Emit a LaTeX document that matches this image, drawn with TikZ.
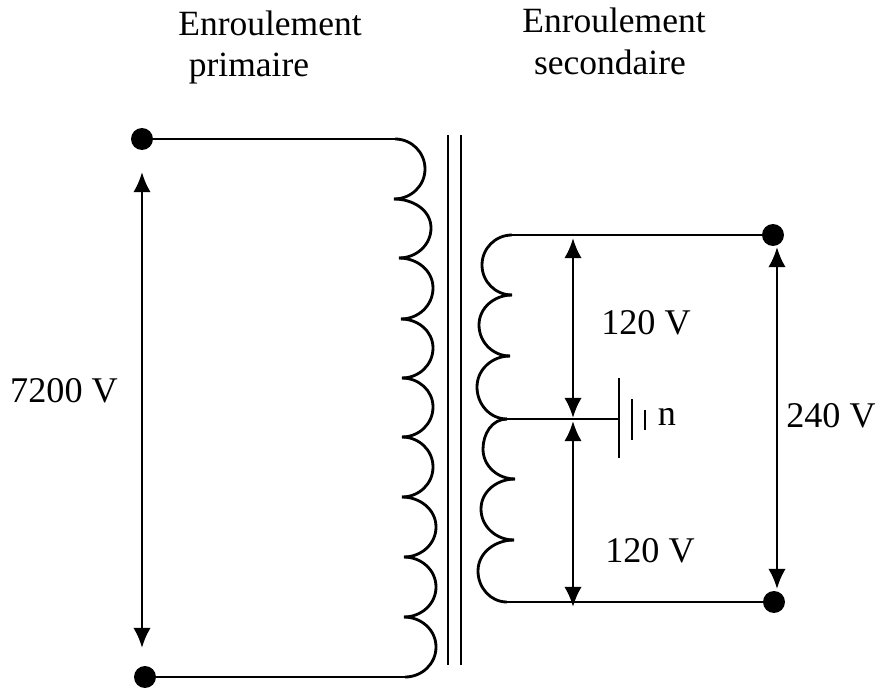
\documentclass[tikz,border=0pt]{standalone}
\usepackage{fontspec}
\setmainfont{Liberation Serif}
\usetikzlibrary{arrows.meta}

\tikzset{
  wire/.style = {line width = 1.6pt},
  dimen/.style = {line width = 1.6pt, {Latex[length = 11.5pt, width = 10pt]}-{Latex[length = 11.5pt, width = 10pt]}},
  terminal/.style = {circle, fill = black, inner sep = 0pt, minimum size = 12.5pt},
  biglabel/.style = {font = \fontsize{20.6}{24}\selectfont, inner sep = 0pt, anchor = base},
  titlelabel/.style = {font = \fontsize{20.2}{24}\selectfont, inner sep = 0pt, anchor = base}
}

\begin{document}
\begin{tikzpicture}[x = 0.02cm, y = -0.02cm]
  \useasboundingbox (0,0) rectangle (875,689);

  \node[terminal] (A) at (142,139) {};
  \node[terminal] (B) at (145,677) {};
  \node[terminal] (C) at (773,235) {};
  \node[terminal] (D) at (774,602) {};

  \coordinate (P0) at (395,139);
  \coordinate (P1) at (394,199);
  \coordinate (P2) at (399,258);
  \coordinate (P3) at (401,319);
  \coordinate (P4) at (402,378);
  \coordinate (P5) at (402,437);
  \coordinate (P6) at (402,497);
  \coordinate (P7) at (404,557);
  \coordinate (P8) at (404,617);
  \coordinate (P9) at (405,677);

  \coordinate (S0) at (512,235);
  \coordinate (S1) at (512,295);
  \coordinate (S2) at (510,356);
  \coordinate (S3) at (507,419);
  \coordinate (S4) at (515,479);
  \coordinate (S5) at (514,540);
  \coordinate (S6) at (507,602);

  \coordinate (U1) at (142,172);
  \coordinate (U2) at (142,648);
  \coordinate (V1) at (573,238);
  \coordinate (V2) at (573,418);
  \coordinate (V3) at (573,421);
  \coordinate (V4) at (573,607);
  \coordinate (W1) at (777,247);
  \coordinate (W2) at (777,589);

  \coordinate (G0) at (619,419);
  \coordinate (G1) at (619,378);
  \coordinate (G2) at (619,458);
  \coordinate (G3) at (632,399);
  \coordinate (G4) at (632,440);
  \coordinate (G5) at (645,410);
  \coordinate (G6) at (645,430);
  \coordinate (K1) at (448,135);
  \coordinate (K2) at (448,665);
  \coordinate (K3) at (461,135);
  \coordinate (K4) at (461,665);

  % primary winding
  \foreach \a/\b/\xm/\ym in {P0/P1/425/169, P1/P2/431/228, P2/P3/433/288, P3/P4/433/348,
    P4/P5/433/407, P5/P6/433/467, P6/P7/436/527, P7/P8/436/587, P8/P9/436/647}
    \draw[wire] (\a) to [out = 0, in = 90] (\xm,\ym) to [out = -90, in = 0] (\b);

  % secondary winding
  \foreach \a/\b/\xm/\ym in {S0/S1/482/265, S1/S2/479/325, S2/S3/477/387,
    S3/S4/483/449, S4/S5/481/509, S5/S6/478/571}
    \draw[wire] (\a) to [out = 180, in = 90] (\xm,\ym) to [out = -90, in = 180] (\b);

  \draw[wire]
  (A) -- (P0)
  (B) -- (P9)
  (S0) -- (C)
  (S6) -- (D)
  (S3) -- (G0)
  (K1) -- (K2)
  (K3) -- (K4)
  (G1) -- (G2)
  (G3) -- (G4)
  (G5) -- (G6);

  \draw[dimen] (U1) -- (U2);
  \draw[dimen] (V1) -- (V2);
  \draw[dimen] (V3) -- (V4);
  \draw[dimen] (W1) -- (W2);

  \node[biglabel] (L1) at (64,402) {7200 V};
  \node[biglabel] (L2) at (646,334) {120 V};
  \node[biglabel] (L3) at (650,562) {120 V};
  \node[biglabel] (L4) at (831,427) {240 V};
  \node[biglabel] (L5) at (667,425) {n};
  \node[titlelabel] (T1) at (270,36) {Enroulement};
  \node[titlelabel] (T2) at (249,77) {primaire};
  \node[titlelabel] (T3) at (614,33) {Enroulement};
  \node[titlelabel] (T4) at (610,75) {secondaire};
\end{tikzpicture}
\end{document}
